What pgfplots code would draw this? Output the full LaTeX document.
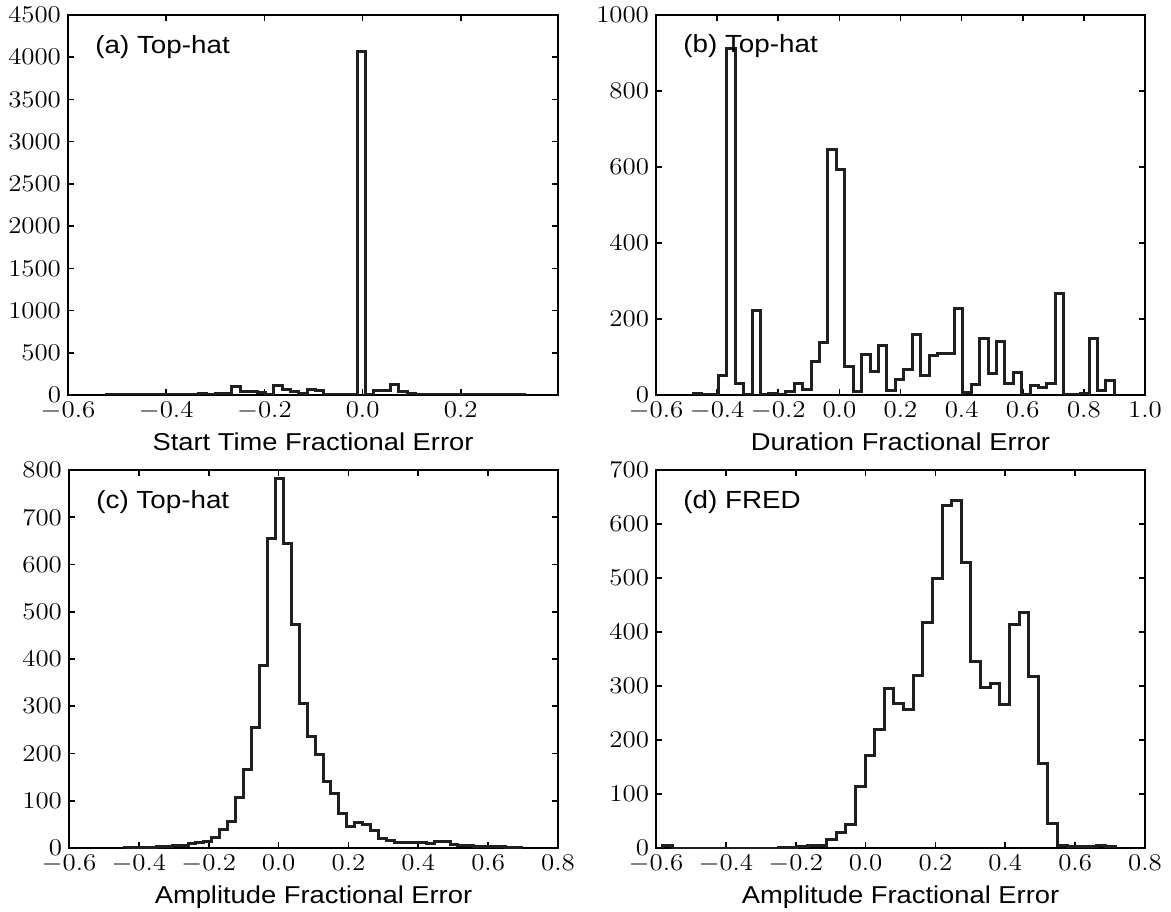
\documentclass[border=0pt]{standalone}
\usepackage{graphicx}
\usepackage{pgfplots}
\pgfplotsset{compat=1.18}
\usepackage{fontspec}
\setmainfont{Liberation Sans}[FakeStretch=1.12]
\tikzset{ptitle/.style={anchor=base west, inner sep=0pt, xshift=13.5pt, yshift=-19pt, font=\fontsize{12.4}{15}\selectfont}}
\begin{document}
\begin{tikzpicture}
\useasboundingbox (0pt,0pt) rectangle (585.5pt,455.5pt);
\pgfplotsset{
  every axis/.append style={
    scale only axis, width=245pt, height=189pt,
    anchor=south west,
    ymin=0, tick align=inside, major tick length=3pt,
    axis line style={line width=0.8pt},
    every tick/.style={line width=0.8pt, black},
    tick label style={font=\fontsize{12}{15}\selectfont},
    label style={font=\fontsize{12.2}{15}\selectfont},
    xticklabel={\scalebox{1.12}[1]{$\pgfmathprintnumber[fixed,fixed zerofill,precision=1]{\tick}$}},
    yticklabel={\scalebox{1.12}[1]{$\pgfmathprintnumber[fixed,precision=0,1000 sep={}]{\tick}$}},
    xlabel style={at={(axis description cs:0.5,0)}, anchor=base, yshift=-27.5pt},
    scaled ticks=false,
  },
  hist/.style={const plot, line width=1.5pt, black!88, line join=miter, no marks},
}
% (a)
\begin{axis}[at={(34pt,258pt)}, height=190pt,
  xmin=-0.6, xmax=0.398, ymax=4500,
  xtick={-0.6,-0.4,-0.2,0.0,0.2}, ytick={0,500,1000,1500,2000,2500,3000,3500,4000,4500},
  xlabel={Start Time Fractional Error}]
\addplot[hist] coordinates {
(-0.521,0)
(-0.521,3) (-0.504,2) (-0.487,1) (-0.470,2) (-0.453,2) (-0.436,3) (-0.419,3) (-0.402,2) (-0.385,4) (-0.368,5)
(-0.351,5) (-0.334,22) (-0.317,5) (-0.300,12) (-0.283,14) (-0.266,100) (-0.249,42) (-0.232,40) (-0.215,24) (-0.198,8)
(-0.181,115) (-0.164,62) (-0.147,36) (-0.130,12) (-0.113,60) (-0.096,48) (-0.079,8) (-0.062,4) (-0.045,3) (-0.028,5)
(-0.011,4070) (0.006,5) (0.023,48) (0.040,52) (0.057,128) (0.074,40) (0.091,12) (0.108,8) (0.125,5) (0.142,3)
(0.159,4) (0.176,4) (0.193,3) (0.210,3) (0.227,2) (0.244,2) (0.261,3) (0.278,2) (0.295,2) (0.312,3)
(0.329,3) (0.329,0)
};
\node[ptitle] at (rel axis cs:0,1) {(a) Top-hat};
\end{axis}
% (b)
\begin{axis}[at={(328pt,258pt)}, width=244.5pt, height=190pt,
  xmin=-0.6, xmax=1.0, ymax=1000,
  xtick={-0.6,-0.4,-0.2,0.0,0.2,0.4,0.6,0.8,1.0}, ytick={0,200,400,600,800,1000},
  xlabel={Duration Fractional Error}]
\addplot[hist] coordinates {
(-0.4787,0)
(-0.4787,5) (-0.4511,1) (-0.4236,1) (-0.3960,51) (-0.3684,913) (-0.3409,29) (-0.3133,0) (-0.2857,222) (-0.2581,0) (-0.2306,3)
(-0.2030,2) (-0.1754,9) (-0.1479,31) (-0.1203,15) (-0.0927,89) (-0.0652,138) (-0.0376,646) (-0.0100,594) (0.0176,75) (0.0451,9)
(0.0727,107) (0.1003,61) (0.1278,129) (0.1554,11) (0.1830,42) (0.2106,66) (0.2381,160) (0.2657,51) (0.2933,103) (0.3208,108)
(0.3484,108) (0.3760,228) (0.4035,6) (0.4311,28) (0.4587,149) (0.4863,57) (0.5138,140) (0.5414,29) (0.5690,60) (0.5965,2)
(0.6241,24) (0.6517,20) (0.6792,31) (0.7068,266) (0.7344,2) (0.7620,2) (0.7895,3) (0.8171,149) (0.8447,13) (0.8722,38)
(0.8998,38) (0.8998,0)
};
\node[ptitle] at (rel axis cs:0,1) {(b) Top-hat};
\end{axis}
% (c)
\begin{axis}[at={(34.5pt,31.5pt)}, width=244.5pt,
  xmin=-0.6, xmax=0.8, ymax=800,
  xtick={-0.6,-0.4,-0.2,0.0,0.2,0.4,0.6,0.8}, ytick={0,100,200,300,400,500,600,700,800},
  xlabel={Amplitude Fractional Error}]
\addplot[hist] coordinates {
(-0.4410,0)
(-0.4410,2) (-0.4183,2) (-0.3955,2) (-0.3728,2) (-0.3501,4) (-0.3274,4) (-0.3046,5) (-0.2819,5) (-0.2592,10) (-0.2364,11)
(-0.2137,13) (-0.1910,23) (-0.1682,40) (-0.1455,56) (-0.1228,107) (-0.1001,166) (-0.0773,254) (-0.0546,386) (-0.0319,655) (-0.0091,782)
(0.0136,645) (0.0363,473) (0.0591,305) (0.0818,236) (0.1045,197) (0.1273,140) (0.1500,116) (0.1727,72) (0.1954,45) (0.2182,54)
(0.2409,49) (0.2636,37) (0.2864,21) (0.3091,16) (0.3318,12) (0.3546,12) (0.3773,11) (0.4000,12) (0.4227,9) (0.4455,13)
(0.4682,13) (0.4909,8) (0.5136,6) (0.5364,5) (0.5591,3) (0.5818,4) (0.6046,4) (0.6273,4) (0.6500,2) (0.6727,1)
(0.6955,1) (0.6955,0)
};
\node[ptitle] at (rel axis cs:0,1) {(c) Top-hat};
\end{axis}
% (d)
\begin{axis}[at={(328pt,31.5pt)}, width=244.5pt,
  xmin=-0.6, xmax=0.8, ymax=700,
  xtick={-0.6,-0.4,-0.2,0.0,0.2,0.4,0.6,0.8}, ytick={0,100,200,300,400,500,600,700},
  xlabel={Amplitude Fractional Error}]
\addplot[hist] coordinates {
(-0.5800,0)
(-0.5800,4) (-0.5525,0) (-0.5249,0) (-0.4974,0) (-0.4698,0) (-0.4423,0) (-0.4147,0) (-0.3872,0) (-0.3596,0) (-0.3321,0)
(-0.3045,0) (-0.2770,0) (-0.2494,1) (-0.2219,1) (-0.1943,2) (-0.1668,4) (-0.1392,4) (-0.1117,15) (-0.0841,28) (-0.0566,43)
(-0.0290,114) (-0.0015,172) (0.0261,220) (0.0537,296) (0.0812,267) (0.1088,257) (0.1363,319) (0.1639,418) (0.1914,500) (0.2190,635)
(0.2465,644) (0.2741,528) (0.3016,345) (0.3292,298) (0.3567,304) (0.3843,265) (0.4118,413) (0.4394,436) (0.4669,317) (0.4945,157)
(0.5220,46) (0.5496,5) (0.5771,3) (0.6047,2) (0.6322,2) (0.6598,4) (0.6873,3)
(0.7149,3) (0.7149,0)
};
\node[ptitle] at (rel axis cs:0,1) {(d) FRED};
\end{axis}
\end{tikzpicture}
\end{document}
